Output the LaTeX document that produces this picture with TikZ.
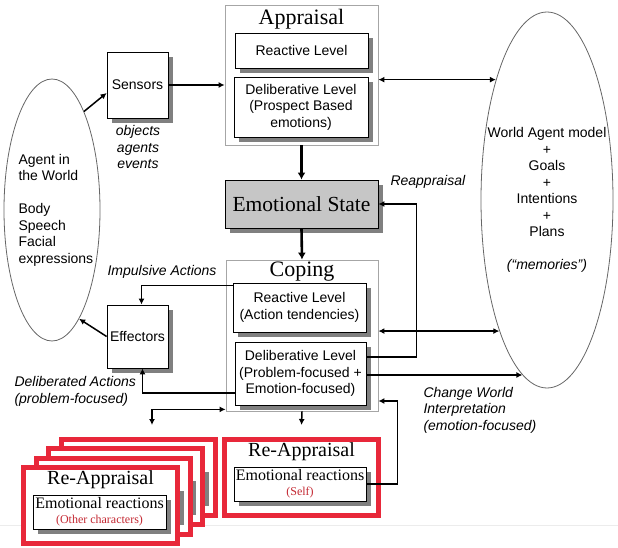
\documentclass[tikz,border=0pt]{standalone}
\usepackage{fontspec}
\setmainfont{Liberation Serif}
\setsansfont{Liberation Sans}
\usetikzlibrary{shapes.geometric,shadows,arrows.meta}

\definecolor{rared}{RGB}{232,40,58}
\definecolor{redtxt}{RGB}{196,40,50}

\tikzset{
  sans/.style={font=\sffamily\fontsize{14}{16.5}\selectfont},
  lbl/.style={font=\sffamily\itshape\fontsize{14}{16.5}\selectfont, align=left},
  lvbox/.style={draw, fill=white, line width=0.8pt, sans, align=center, inner sep=0pt,
    drop shadow={shadow xshift=5pt, shadow yshift=-5pt, fill=black!50, opacity=1}},
  outerbox/.style={draw=gray!70, line width=0.8pt, fill=white, inner sep=0pt},
  ttl/.style={font=\fontsize{22}{24}\selectfont},
  rttl/.style={font=\fontsize{20}{22}\selectfont},
  reapp/.style={draw=rared, line width=5pt, fill=white, minimum width=154pt, minimum height=76pt, inner sep=0pt},
  emobox/.style={lvbox, font=\fontsize{16}{16}\selectfont, minimum width=133pt, minimum height=34pt},
  conn/.style={line width=1.5pt, -{Latex[length=6pt,width=6pt]}},
  bold conn/.style={line width=2.6pt, -{Latex[length=7pt,width=8pt]}},
  bi conn/.style={line width=1.5pt, {Latex[length=6pt,width=6pt]}-{Latex[length=6pt,width=6pt]}},
}

\begin{document}
\begin{tikzpicture}[x=1pt,y=-1pt]
\useasboundingbox (0,0) rectangle (618,548);
\draw[gray!15, line width=1pt] (0,525) -- (618,525);

% the agent and its world model
\node[draw=gray!80!black, line width=0.8pt, ellipse, minimum width=96pt, minimum height=262pt] (agent) at (52,210) {};
\node[sans, align=left, anchor=west] (agtxt) at (15,210) {Agent in\\the World\\[16.5pt]Body\\Speech\\Facial\\expressions};
\node[draw=gray!80!black, line width=0.8pt, ellipse, minimum width=132pt, minimum height=376pt] (world) at (547,200) {};
\node[sans, align=center] (wtxt) at (547,200) {World Agent model\\+\\Goals\\+\\Intentions\\+\\Plans\\[16.5pt]\textit{(“memories”)}};

% sensors and effectors
\node[lvbox, minimum width=61pt, minimum height=66pt] (sens) at (137.5,85) {Sensors};
\node[lbl, align=center] (perc) at (138,147) {objects\\agents\\events};
\node[lvbox, minimum width=61pt, minimum height=63pt] (eff) at (137.5,336.5) {Effectors};

% appraisal
\node[outerbox, minimum width=153pt, minimum height=140pt] (appr) at (301.5,75) {};
\node[ttl] (aptl) at (301.5,19) {Appraisal};
\node[lvbox, minimum width=133pt, minimum height=35pt] (area) at (301.5,50.5) {Reactive Level};
\node[lvbox, minimum width=134pt, minimum height=60pt] (adel) at (301,107) {Deliberative Level\\(Prospect Based\\emotions)};

\node[lvbox, fill=gray!45, font=\fontsize{21.5}{24}\selectfont, minimum width=153pt, minimum height=48pt] (emo) at (301.5,204) {Emotional State};

% coping
\node[outerbox, minimum width=152pt, minimum height=151pt] (cop) at (302,335.5) {};
\node[ttl] (cotl) at (302,272) {Coping};
\node[lvbox, minimum width=133pt, minimum height=49pt] (crea) at (299.5,307.5) {Reactive Level\\(Action tendencies)};
\node[lvbox, minimum width=131pt, minimum height=63pt] (cdel) at (300.5,373.5) {Deliberative Level\\(Problem-focused +\\Emotion-focused)};

% re-appraisal of the other characters (stacked) and of the self
\foreach \k in {3,2,1} {
  \node[reapp] (oth\k) at (100.5+12.5*\k, 505.5-9.3*\k) {};
  \node[emobox] (othin\k) at (99.5+12.5*\k, 512-9.3*\k) {};
}
\node[reapp] (oth0) at (100.5,505.5) {};
\node[rttl] (othtl) at (100.5,480) {Re-Appraisal};
\node[emobox] (othin0) at (99.5,512)
  {Emotional reactions\\[-1pt]{\color{redtxt}\fontsize{12}{12}\selectfont (Other characters)}};
\node[reapp] (self) at (301.5,477.5) {};
\node[rttl] (setl) at (301.5,452) {Re-Appraisal};
\node[emobox, minimum width=132pt] (sin) at (300,484)
  {Emotional reactions\\[-1pt]{\color{redtxt}\fontsize{12}{12}\selectfont (Self)}};

% connectors
\draw[conn] (agent.72) -- ([yshift=-8pt]sens.west);
\draw[conn] (sens.east) -- (sens.east -| appr.west);
\draw[bold conn] (appr.south) -- (emo.north);
\draw[bold conn] (emo.south) -- (cop.north);
\draw[bi conn] (appr.east |- world.113) -- (world.113);
\draw[bi conn] (cop.east |- world.250) -- (world.250);
\draw[conn] (cdel.east |- world.262) -- (world.262);
\draw[conn] ([yshift=16.5pt]cdel.east) -- ++(50,0) |- (emo.east);
\draw[conn] ([yshift=22pt]crea.west) -| ([xshift=4pt]eff.north);
\draw[conn] ([yshift=-19.5pt]cdel.west) -| ([xshift=5pt]eff.south);
\draw[conn] (eff.west) -- (agent.-76);
\coordinate (othtop) at (152,425);
\draw[bi conn] (othtop) |- ([yshift=2pt]cop.south west);
\draw[conn] (cop.south) -- ([yshift=12pt]self.north);
\draw[conn] (sin.east) -- ++(31,0) |- ([yshift=-65.5pt]cop.east);

% labels on the connectors
\node[lbl, anchor=west] (reap) at (387,182) {Reappraisal};
\node[lbl, anchor=west] (imp) at (104,272) {Impulsive Actions};
\node[lbl, anchor=west] (delb) at (11,391.5) {Deliberated Actions\\(problem-focused)};
\node[lbl, anchor=west] (chg) at (420,410) {Change World\\Interpretation\\(emotion-focused)};
\end{tikzpicture}
\end{document}
